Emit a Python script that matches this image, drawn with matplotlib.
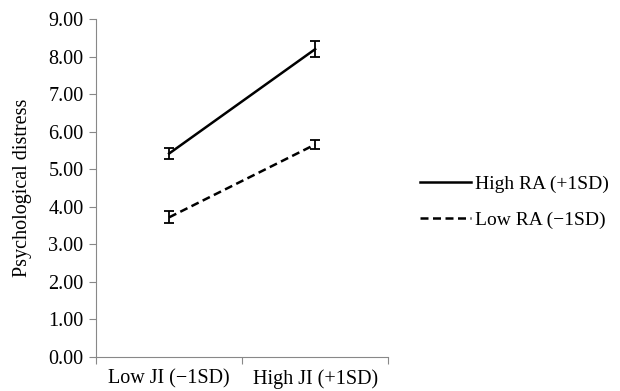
import numpy as np
import matplotlib
matplotlib.use("Agg")
import matplotlib.pyplot as plt
from matplotlib.lines import Line2D

plt.rcParams['font.family'] = ['Liberation Serif', 'DejaVu Serif']

categories = ["Low JI (\u22121SD)", "High JI (+1SD)"]
high_ra = [5.42, 8.20]
high_ra_err = [0.15, 0.22]
low_ra = [3.72, 5.66]
low_ra_err = [0.16, 0.13]
yticks = [0, 1, 2, 3, 4, 5, 6, 7, 8, 9]

fig = plt.figure(figsize=(6.2, 3.91), dpi=100)
ax = fig.add_axes([0.155, 0.087, 0.471, 0.864])

x = np.array([0.5, 1.5])
dash = (0, (3.2, 1.8))
ax.errorbar(x, high_ra, yerr=high_ra_err, color='black', lw=1.8, capsize=3.5,
            elinewidth=1.3, capthick=1.3)
ax.errorbar(x, low_ra, yerr=low_ra_err, color='black', lw=1.8, ls=dash,
            capsize=3.5, elinewidth=1.3, capthick=1.3)

ax.set_xlim(0, 2)
ax.set_ylim(0, 9)
ax.set_yticks(yticks)
ax.set_yticklabels(["%.2f" % v for v in yticks])
ax.set_xticks([0, 1, 2])
ax.set_xticklabels([])
ax.set_xticks(x, minor=True)
ax.set_xticklabels(categories, minor=True)
ax.tick_params(axis='x', which='minor', length=0, pad=9, labelsize=14.5)
ax.tick_params(axis='both', which='major', color='#888888', length=5, direction='out')
ax.tick_params(axis='y', labelsize=14.5, pad=4)
for s in ['top', 'right']:
    ax.spines[s].set_visible(False)
for s in ['left', 'bottom']:
    ax.spines[s].set_color('#888888')
ax.set_ylabel("Psychological distress", fontsize=14.5, labelpad=12)

handles = [Line2D([], [], color='black', lw=1.8),
           Line2D([], [], color='black', lw=1.8, ls=dash)]
fig.legend(handles, ["High RA (+1SD)", "Low RA (\u22121SD)"], loc='center left',
           bbox_to_anchor=(0.677, 0.483), frameon=False, fontsize=14,
           borderpad=0, borderaxespad=0,
           handlelength=2.65, handletextpad=0.2, labelspacing=0.95)

fig.savefig("out.png", dpi=100)
